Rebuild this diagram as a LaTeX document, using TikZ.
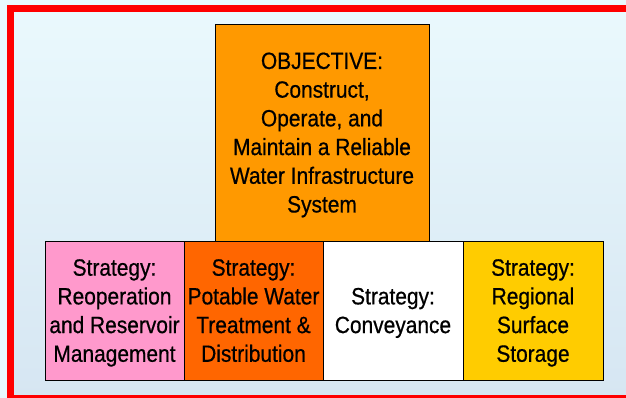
\documentclass[tikz,border=0pt]{standalone}
\usepackage{fontspec}
\setmainfont{Liberation Sans}[FakeStretch=0.89,FakeBold=0.6]
\definecolor{bgout}{HTML}{E8F9FD}
\definecolor{bgtop}{HTML}{EAF9FD}
\definecolor{bgbot}{HTML}{D6E6F2}
\definecolor{frame}{HTML}{FF0000}
\definecolor{objfill}{HTML}{FF9900}
\definecolor{pinkfill}{HTML}{FF99CC}
\definecolor{orangefill}{HTML}{FF6600}
\definecolor{goldfill}{HTML}{FFCC00}
\tikzset{
  box/.style={draw=black, line width=0.9pt, inner sep=0pt, align=center,
    text depth=0pt, font=\fontsize{23.5}{28.7}\selectfont, text=black},
}
\begin{document}
\begin{tikzpicture}[x=1pt,y=-1pt]
\useasboundingbox (0,0) rectangle (626,398);
\fill[bgout] (0,0) rectangle (626,398);
\shade[top color=bgtop, bottom color=bgbot] (10.5,8.8) rectangle (640,398);
\draw[frame, line width=7pt] (640,8.8) -- (10.5,8.8) -- (10.5,398.5) -- (640,398.5);
\node[box, fill=objfill, minimum width=214pt, minimum height=217pt] (obj) at (322,132.5)
  {OBJECTIVE:\\Construct,\\Operate, and\\Maintain a Reliable\\Water Infrastructure\\System};
\node[box, fill=pinkfill, minimum width=139pt, minimum height=139pt] (s1) at (114.5,310.5)
  {Strategy:\\Reoperation\\and Reservoir\\Management};
\node[box, fill=orangefill, minimum width=139pt, minimum height=139pt] (s2) at (253.5,310.5)
  {Strategy:\\Potable Water\\Treatment \&\\Distribution};
\node[box, fill=white, minimum width=140pt, minimum height=139pt] (s3) at (393,310.5)
  {Strategy:\\Conveyance};
\node[box, fill=goldfill, minimum width=140pt, minimum height=139pt] (s4) at (533,310.5)
  {Strategy:\\Regional\\Surface\\Storage};
\end{tikzpicture}
\end{document}
